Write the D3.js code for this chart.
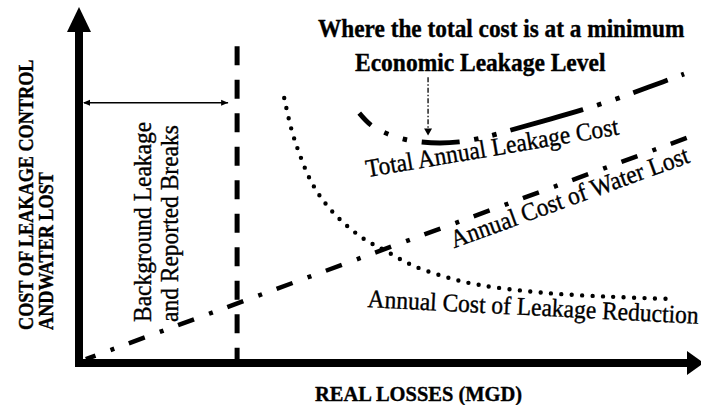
<!DOCTYPE html>
<html>
<head>
<meta charset="utf-8">
<script src="https://cdn.jsdelivr.net/npm/d3@7"></script>
<style>
  body { margin: 0; background: #fff; }
  svg { display: block; }
  text { font-family: "Liberation Serif", "Times New Roman", serif; fill: #000; stroke: #000; stroke-width: 0.35px; }
</style>
</head>
<body>
<script>
// cost curves, in chart units (0..10 on both axes)
var reductionCost = [[3.31,7.53],[3.42,6.68],[3.55,5.97],[3.74,5.17],[3.98,4.52],[4.27,3.98],
                     [4.60,3.52],[4.95,3.18],[5.37,2.78],[5.92,2.44],[6.45,2.22],[7.53,1.99],
                     [8.60,1.88],[9.52,1.82]];
var waterLostCost = [[0.11,0.11],[9.84,6.42]];
var totalCost = [[4.52,7.10],[4.71,6.76],[4.95,6.53],[5.24,6.36],[5.52,6.28],[5.82,6.25],
                 [6.13,6.28],[6.40,6.36],[6.69,6.48],[6.97,6.62],[7.50,6.88],[8.11,7.19],
                 [8.66,7.50],[9.19,7.84],[9.76,8.21]];

// annotation values
var boundaryX   = 2.55;   // limit of background leakage and reported breaks
var boundaryTop = 9.0;
var spanY       = 7.39;   // level of the double arrow
var minimumX    = 5.63;   // economic leakage level
var minimumFrom = 8.12;
var minimumTo   = 6.46;

// texts
var yTitle     = ["COST OF LEAKAGE CONTROL", "ANDWATER LOST"];
var xTitle     = "REAL LOSSES (MGD)";
var topTitle   = ["Where the total cost is at a minimum", "Economic Leakage Level"];
var zoneLabel  = ["Background Leakage", "and Reported Breaks"];
var curveNames = ["Total Annual Leakage Cost", "Annual Cost of Water Lost", "Annual Cost of Leakage Reduction"];

var width = 701, height = 405;

var x = d3.scaleLinear().domain([0, 10]).range([79, 699]);
var y = d3.scaleLinear().domain([0, 10]).range([363, 11]);

var svg = d3.select("body").append("svg")
    .attr("width", width)
    .attr("height", height);

svg.append("rect").attr("width", width).attr("height", height).style("fill", "#fff");

var line = d3.line()
    .x(function(d) { return x(d[0]); })
    .y(function(d) { return y(d[1]); });

// axes: thick black lines with solid arrow heads
svg.append("line")
    .attr("x1", x(0)).attr("y1", y(0) + 4)
    .attr("x2", x(0)).attr("y2", 26)
    .style("stroke", "#000").style("stroke-width", 8);
svg.append("path")
    .attr("d", "M" + x(0) + ",7 L" + (x(0) - 12) + ",32 L" + (x(0) + 12) + ",32 Z")
    .style("fill", "#000");

svg.append("line")
    .attr("x1", x(0) - 4).attr("y1", y(0))
    .attr("x2", 690).attr("y2", y(0))
    .style("stroke", "#000").style("stroke-width", 8);
svg.append("path")
    .attr("d", "M704," + y(0) + " L687," + (y(0) - 12) + " L687," + (y(0) + 12) + " Z")
    .style("fill", "#000");

// vertical dashed boundary
svg.append("line")
    .attr("x1", x(boundaryX)).attr("y1", y(boundaryTop))
    .attr("x2", x(boundaryX)).attr("y2", y(0))
    .style("stroke", "#000").style("stroke-width", 5)
    .style("stroke-dasharray", "19 14.5");

// double headed span arrow
var span = svg.append("g").style("stroke", "#000").style("fill", "#000");
span.append("line")
    .attr("x1", x(0) + 5).attr("y1", y(spanY))
    .attr("x2", x(boundaryX) - 9).attr("y2", y(spanY))
    .style("stroke-width", 1.5);
span.append("path")
    .attr("d", "M" + (x(0) + 4) + "," + y(spanY) + " l7,-3 l0,6 Z").style("stroke", "none");
span.append("path")
    .attr("d", "M" + (x(boundaryX) - 9) + "," + y(spanY) + " l-7,-3 l0,6 Z").style("stroke", "none");

// cost of leakage reduction (dotted)
svg.append("path")
    .datum(reductionCost)
    .attr("d", line.curve(d3.curveCatmullRom))
    .style("fill", "none").style("stroke", "#000")
    .style("stroke-width", 4.4)
    .style("stroke-linecap", "round")
    .style("stroke-dasharray", "0 10.4");

// cost of water lost (dash dot)
svg.append("path")
    .datum(waterLostCost)
    .attr("d", line.curve(d3.curveLinear))
    .style("fill", "none").style("stroke", "#000")
    .style("stroke-width", 4.5)
    .style("stroke-dasharray", "17 16 4 15.5")
    .style("stroke-dashoffset", 6.7);

// total annual leakage cost (dash dot dot)
svg.append("path")
    .datum(totalCost)
    .attr("d", line.curve(d3.curveCatmullRom))
    .style("fill", "none").style("stroke", "#000")
    .style("stroke-width", 4.8)
    .style("stroke-dasharray", "17 15 4.5 15 4.5 14.8 38 14.7 4.5 14 4.5 14.5 75.5 14.5 4.5 15 4.5 14.5 36.5 14.5 5 100");

// arrow pointing at the minimum
svg.append("line")
    .attr("x1", x(minimumX)).attr("y1", y(minimumFrom))
    .attr("x2", x(minimumX)).attr("y2", y(minimumTo) - 6)
    .style("stroke", "#000").style("stroke-width", 1.3)
    .style("stroke-dasharray", "5 2 1.5 2");
svg.append("path")
    .attr("d", "M" + x(minimumX) + "," + y(minimumTo) + " l-4,-7 l8,0 Z")
    .style("fill", "#000");

// titles
svg.append("text")
    .attr("transform", "translate(318,37) scale(1,1.05)")
    .style("font-size", "23.3px").style("font-weight", "bold")
    .text(topTitle[0]);
svg.append("text")
    .attr("transform", "translate(355,71) scale(1,1.05)")
    .style("font-size", "23.5px").style("font-weight", "bold")
    .text(topTitle[1]);

svg.append("text")
    .attr("transform", "translate(315,401) scale(1,1.05)")
    .style("font-size", "20.5px").style("font-weight", "bold")
    .text(xTitle);

svg.selectAll(".ytitle")
    .data(yTitle)
    .enter().append("text")
    .attr("class", "ytitle")
    .attr("transform", function(d, i) { return "translate(" + (33 + i * 20) + ",330) rotate(-90) scale(1,1.15)"; })
    .style("font-size", "18.2px").style("font-weight", "bold")
    .text(function(d) { return d; });

svg.selectAll(".zone")
    .data(zoneLabel)
    .enter().append("text")
    .attr("class", "zone")
    .attr("transform", function(d, i) { return "translate(" + (151 + i * 27) + ",322) rotate(-90) scale(1,1.08)"; })
    .style("font-size", "23.5px")
    .text(function(d) { return d; });

// curve labels, anchored in chart units
var labelPlace = [[4.65, 5.28, -9.6], [6.05, 3.26, -20], [4.65, 1.59, 2.9]];
svg.selectAll(".curve-label")
    .data(curveNames)
    .enter().append("text")
    .attr("class", "curve-label")
    .attr("transform", function(d, i) {
        var p = labelPlace[i];
        return "translate(" + x(p[0]) + "," + y(p[1]) + ") rotate(" + p[2] + ") scale(1,1.08)";
    })
    .style("font-size", "23.5px")
    .text(function(d) { return d; });
</script>
</body>
</html>
